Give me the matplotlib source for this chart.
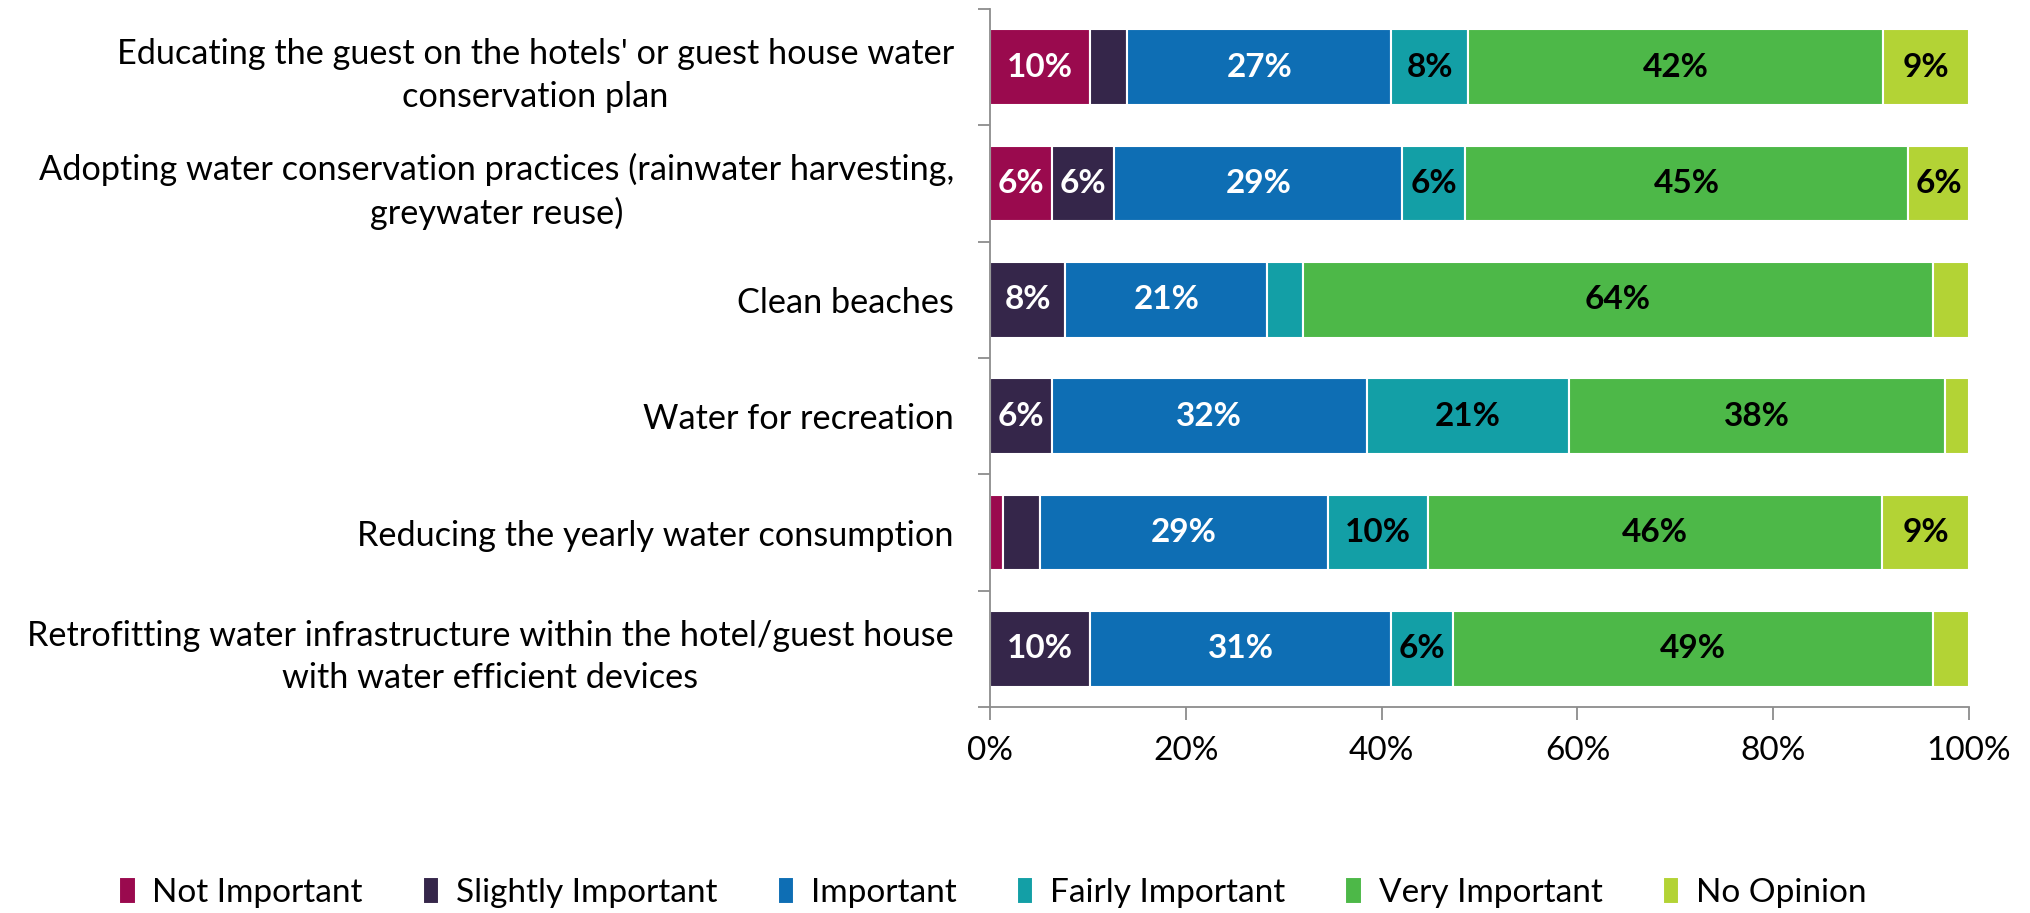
import matplotlib.pyplot as plt
import numpy as np

plt.rcParams['font.family'] = ['Lato', 'DejaVu Sans']

# categories, top to bottom
categories = [
    "Educating the guest on the hotels' or guest house water\nconservation plan",
    "Adopting water conservation practices (rainwater harvesting,\ngreywater reuse)",
    "Clean beaches",
    "Water for recreation",
    "Reducing the yearly water consumption",
    "Retrofitting water infrastructure within the hotel/guest house\nwith water efficient devices",
]
series = ["Not Important", "Slightly Important", "Important",
          "Fairly Important", "Very Important", "No Opinion"]

# percentages per category
not_important = [10.2, 6.3, 0.0, 0.0, 1.3, 0.0]
slightly_important = [3.8, 6.4, 7.7, 6.3, 3.8, 10.2]
important = [27.0, 29.4, 20.6, 32.2, 29.4, 30.8]
fairly_important = [7.8, 6.4, 3.7, 20.6, 10.2, 6.3]
very_important = [42.4, 45.3, 64.3, 38.4, 46.4, 49.0]
no_opinion = [8.8, 6.2, 3.7, 2.5, 8.9, 3.7]

colors = ["#9A0A4E", "#35264A", "#0E6EB4", "#139FA6", "#4DB848", "#B3D335"]
label_colors = ["white", "white", "white", "black", "black", "black"]

data = [not_important, slightly_important, important,
        fairly_important, very_important, no_opinion]

fig = plt.figure(figsize=(20.3, 9.13), dpi=100)
ax = fig.add_axes([0.4877, 0.2256, 0.4823, 0.7646])

y = np.arange(len(categories))
left = np.zeros(len(categories))
for vals, name, c, lc in zip(data, series, colors, label_colors):
    vals = np.array(vals)
    bars = ax.barh(y, vals, left=left, height=0.65, color=c, label=name,
                   edgecolor='white', linewidth=1.5)
    for b, v in zip(bars, vals):
        if v >= 5:
            ax.text(b.get_x() + b.get_width() / 2, b.get_y() + b.get_height() / 2,
                    f"{v:.0f}%", ha='center', va='center', color=lc,
                    fontsize=24, fontweight='bold')
    left += vals

ax.set_xlim(0, 100)
ax.set_ylim(len(categories) - 0.5, -0.5)
ax.set_xticks(np.arange(0, 101, 20))
ax.set_xticklabels([f"{t}%" for t in range(0, 101, 20)])
ax.set_yticks(y)
ax.set_yticklabels(categories, multialignment='center', linespacing=1.4)
ax.set_yticks(np.arange(-0.5, len(categories)), minor=True)
ax.tick_params(axis='y', which='major', length=0, pad=26, labelsize=24.7)
ax.tick_params(axis='y', which='minor', length=9, width=1.3, color='#8c8c8c')
ax.tick_params(axis='x', length=9, width=1.3, color='#8c8c8c', labelsize=24, pad=12)

for s in ['top', 'right']:
    ax.spines[s].set_visible(False)
for s in ['left', 'bottom']:
    ax.spines[s].set_color('#8c8c8c')
    ax.spines[s].set_linewidth(1.3)

fig.legend(loc='center', bbox_to_anchor=(0.489, 0.022), ncol=6, frameon=False,
           fontsize=24, handlelength=0.5, handleheight=0.85, handletextpad=0.5,
           columnspacing=1.8)

fig.savefig("out.png", dpi=100)
